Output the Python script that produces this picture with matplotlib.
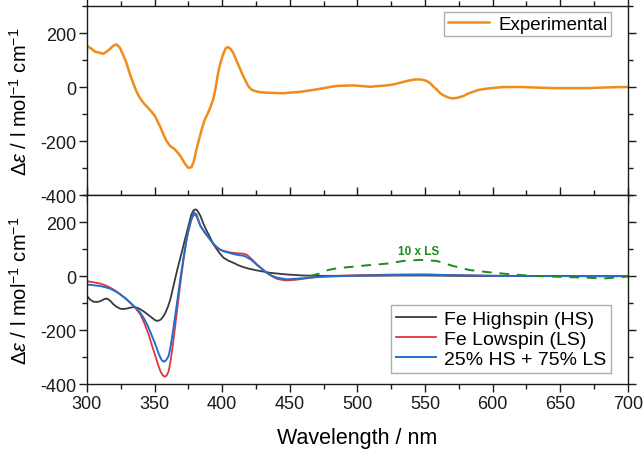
import matplotlib.pyplot as plt
from matplotlib.ticker import MultipleLocator

plt.rcParams['font.family'] = ['Liberation Sans', 'DejaVu Sans']
plt.rcParams['mathtext.fontset'] = 'custom'
plt.rcParams['mathtext.rm'] = 'Liberation Sans'
plt.rcParams['mathtext.it'] = 'Liberation Sans:italic'
plt.rcParams['axes.unicode_minus'] = False

# experimental CD spectrum (top panel)
exp_nm = [300, 303, 306, 309.4, 311.9, 314, 316.8, 319.5, 321.8, 324.3, 326.5, 329.2,
          331.5, 334.1, 336.5, 339.1, 342, 345.2, 348, 350.2, 353.9, 356.5, 358.8,
          361.5, 365, 367.5, 369.9, 372.4, 374.8, 377.3, 379, 381, 384.7, 387, 389.6,
          391.5, 393.3, 395, 397, 399, 400.7, 402.5, 404.4, 406.2, 408.1, 411.8,
          415.5, 419.2, 421.5, 424.1, 428, 432.8, 445.1, 457.4, 469.7, 479.6, 484.8,
          497.1, 509.4, 521.7, 527, 531.6, 535.5, 539, 542.5, 546.4, 549, 551.3,
          553.8, 556.3, 558.8, 561.2, 563.7, 566.2, 568.6, 571.1, 574.5, 578.5,
          582, 585.9, 590, 595.7, 601, 608, 620.3, 645, 669.6, 694.3, 700]
exp_val = [152, 143, 131, 127, 123, 129, 140, 153, 158, 146, 122, 90,
           52, 16, -15, -40, -60, -77, -93, -107, -144, -175, -200,
           -218, -231, -245, -262, -283, -299, -297, -275, -230, -160, -122, -95,
           -72, -46, -8, 53, 95, 121, 143, 148, 141, 127, 84,
           41, 4, -9, -15, -19, -21, -23, -18, -9, 0, 4,
           6, 1, 6, 10, 16, 21, 25, 28, 28, 26, 22,
           14, 1, -10, -23, -31, -37, -41, -42, -39, -33,
           -24, -17, -10, -6, -3, 0, 0, -4, -4, 0, 0]

# calculated spectra (bottom panel)
hs_nm = [300, 302.5, 304.9, 307.5, 309.9, 312.5, 314.8, 317.3, 319.7, 322, 324.7, 327,
         329.6, 332, 334.6, 337, 339.5, 342, 344.4, 347.5, 350.6, 352.5, 354.3,
         356.2, 358, 360, 361.7, 363.5, 365.4, 367.2, 369.1, 371, 372.8, 375.3,
         377, 378.8, 380.5, 382, 384, 386, 388.5, 391.2, 393.5, 396.1, 398.5, 401,
         404.5, 408.4, 412, 415.8, 420, 425.7, 435.5, 447.8, 460.2, 472.5, 500,
         530, 550, 570, 600, 650, 700]
hs_val = [-74, -88, -95, -96, -93, -86, -83, -92, -105, -114, -121, -122,
          -120, -117, -115, -117, -123, -131, -140, -152, -164, -166, -162,
          -152, -136, -112, -86, -47, -6, 32, 68, 106, 142, 190,
          225, 244, 247, 240, 222, 195, 168, 142, 118, 99, 82, 68,
          57, 49, 40, 33, 27, 21, 12, 6, 2, 1, 1,
          2, 2, 1, 0, 0, 0]

ls_nm = [300, 305, 309.9, 313.5, 317.3, 321, 324.7, 328.5, 332.1, 336, 339.5, 342.5,
         345.6, 348, 350.6, 352.5, 354.3, 356, 357.5, 359, 360.4, 361.7, 362.9,
         364.2, 365.4, 366.6, 367.8, 369, 370.3, 371.5, 372.8, 374, 375.3, 377,
         379, 381, 383.9, 387.5, 391, 393.5, 396, 398.5, 401, 404.5, 408.4, 412,
         415.8, 418.5, 420.7, 423, 425.7, 429.5, 433, 436.5, 440.4, 444, 447.8,
         454, 460, 466, 472, 485, 500, 520, 535, 548, 560, 575, 600, 630, 650,
         675, 690, 700]
ls_val = [-19, -23, -28, -34, -43, -54, -68, -83, -99, -119, -142, -175,
          -216, -256, -296, -327, -352, -367, -373, -368, -352, -320, -278,
          -228, -179, -128, -80, -30, 19, 63, 105, 143, 173, 206,
          228, 222, 185, 158, 136, 119, 107, 98, 93, 89, 86, 84,
          83, 78, 68, 57, 43, 27, 12, 0, -10, -14, -16,
          -14, -10, -6, -2, 1, 3, 5, 6, 6, 5, 3, 1, 0, 0,
          -1, -1, 0]

mix_nm = [300, 305, 309.9, 313.5, 317.3, 321, 324.7, 328.5, 332.1, 336, 339.5, 342.5,
          345.6, 348, 350.6, 352.5, 354.3, 355.6, 356.8, 358.5, 360.4, 361.7, 362.9,
          364.2, 365.4, 366.6, 367.8, 369, 370.3, 371.5, 372.8, 374, 375.3, 377,
          379, 381, 383.9, 387.5, 391, 393.5, 396, 398.5, 401, 404.5, 408, 412,
          416, 418.5, 421, 423.5, 426, 429.5, 433, 436.5, 440, 444, 448, 454,
          460, 466, 472, 500, 530, 550, 575, 600, 650, 700]
mix_val = [-31, -34, -37, -41, -47, -56, -68, -82, -99, -117, -136, -160,
           -191, -221, -253, -280, -302, -313, -317, -312, -296, -266, -228,
           -185, -142, -99, -56, -12, 31, 72, 111, 146, 173, 206,
           237, 228, 186, 160, 136, 120, 107, 98, 92, 87, 82, 78,
           75, 69, 62, 52, 40, 26, 12, 2, -5, -9, -12, -10,
           -8, -5, -3, 2, 4, 5, 3, 1, 0, 0]

ls10_nm = [465, 472.5, 478, 484.8, 497.1, 509.4, 521.7, 534, 546.4, 558.7, 571, 583.4,
           595.7, 608, 620.3, 632.6, 645, 669.6, 682, 694.3, 700]
ls10_val = [0, 10, 22, 29, 35, 41, 46, 56, 60, 56, 37, 22,
            15, 9, 4, 0, -2, -6, -9, -4, -2]

fig, (ax1, ax2) = plt.subplots(2, 1, figsize=(6.44, 4.52), dpi=100, sharex=True)
fig.subplots_adjust(left=0.135, right=0.975, bottom=0.148, top=0.9845, hspace=0)

ax1.plot(exp_nm, exp_val, color='#f08c1a', lw=1.8, label='Experimental')
ax2.plot(hs_nm, hs_val, color='#3a3a3a', lw=1.3, label='Fe Highspin (HS)')
ax2.plot(ls_nm, ls_val, color='#e0363d', lw=1.3, label='Fe Lowspin (LS)')
ax2.plot(mix_nm, mix_val, color='#1f6fd0', lw=1.4, label='25% HS + 75% LS')
ax2.plot(ls10_nm, ls10_val, color='#1e8a1e', lw=1.4, ls=(0, (5, 4)))
ax2.text(545, 72, '10 x LS', color='#1e8a1e', fontsize=8.5, fontweight='bold',
         ha='center', va='bottom')

ylab = r'$\Delta\varepsilon$ / l mol$^{-1}$ cm$^{-1}$'
for ax in (ax1, ax2):
    ax.set_xlim(300, 700)
    ax.set_ylim(-400, 300)
    ax.xaxis.set_major_locator(MultipleLocator(50))
    ax.xaxis.set_minor_locator(MultipleLocator(25))
    ax.set_yticks([-400, -200, 0, 200])
    ax.yaxis.set_minor_locator(MultipleLocator(100))
    ax.tick_params(which='both', direction='out', top=True, right=True,
                   labelsize=13, width=1, colors='#1a1a1a')
    ax.tick_params(which='major', length=5.5, pad=2)
    ax.tick_params(which='minor', length=3.5)
    for s in ax.spines.values():
        s.set_linewidth(1)
        s.set_color('#1a1a1a')
    ax.set_ylabel(ylab, fontsize=14.5, labelpad=7)

ax1.tick_params(labelbottom=False)
ax2.set_xlabel('Wavelength / nm', fontsize=15.5, labelpad=11)
fig.align_ylabels([ax1, ax2])

ax1.legend(loc='upper right', fontsize=13.5, frameon=True, fancybox=False,
           edgecolor='#999999', handlelength=2.2, handletextpad=0.5, borderpad=0.2,
           borderaxespad=0.3, bbox_to_anchor=(0.98, 1.0))
ax2.legend(loc='lower right', fontsize=14, frameon=True, fancybox=False,
           edgecolor='#999999', handlelength=2.1, handletextpad=0.4, borderpad=0.25,
           labelspacing=0.12, borderaxespad=0.3, bbox_to_anchor=(0.98, 0.03))

fig.savefig('out.png', dpi=100)
